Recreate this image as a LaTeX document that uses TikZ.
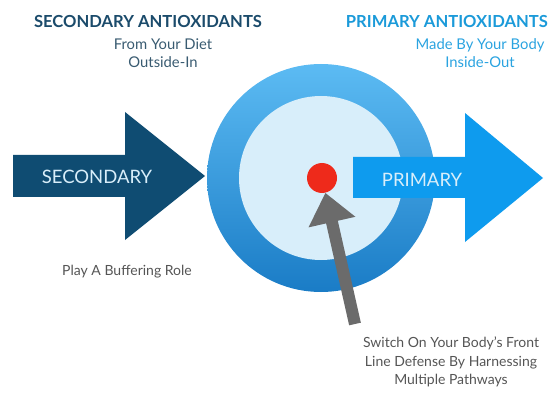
\documentclass[tikz,border=0pt]{standalone}
\usepackage{fontspec}
\setmainfont{Lato}
\usetikzlibrary{arrows.meta}
\definecolor{navy}{HTML}{0F4C72}
\definecolor{navytxt}{HTML}{1B4B6B}
\definecolor{ringtop}{HTML}{5CBBF3}
\definecolor{ringbot}{HTML}{1A7CC6}
\definecolor{innerc}{HTML}{D8EEFA}
\definecolor{primc}{HTML}{0E9BEE}
\definecolor{primtxt}{HTML}{1B9AD9}
\definecolor{subtxt}{HTML}{2AA3E0}
\definecolor{graytxt}{HTML}{555555}
\definecolor{grayarr}{HTML}{6B6B6B}
\definecolor{dotred}{HTML}{EE2A1B}
\tikzset{
  title/.style={font=\bfseries\fontsize{16.6}{19}\selectfont, inner sep=0pt},
  sub/.style={font=\fontsize{14.8}{18}\selectfont, align=center, inner sep=0pt},
  body/.style={font=\fontsize{14}{18.5}\selectfont, text=graytxt, align=center, inner sep=0pt},
  arrtxt/.style={font=\fontsize{18.5}{20}\selectfont, inner sep=0pt}
}
\begin{document}
\begin{tikzpicture}[x=1pt,y=-1pt]
\useasboundingbox (0,0) rectangle (560,393);
% target circles
\shade[top color=ringtop, bottom color=ringbot] (321,178) circle (114);
\fill[innerc] (321,178) circle (82);
% secondary arrow
\fill[navy] (13,155) -- (125,155) -- (125,112) -- (205,176) -- (125,240) -- (125,197) -- (13,197) -- cycle;
\node[arrtxt, text=innerc] (sec) at (97,177) {SECONDARY};
% primary arrow
\fill[primc] (353,157) -- (465,157) -- (465,113) -- (543,178) -- (465,242) -- (465,198) -- (353,198) -- cycle;
\node[arrtxt, text=innerc] (prim) at (422,180) {PRIMARY};
% red dot
\node[circle, fill=dotred, minimum size=30pt, inner sep=0pt] (dot) at (322,178) {};
% gray arrow
\coordinate (tail) at (355,324);
\draw[grayarr, line width=12pt, -{Triangle[width=46pt,length=30pt]}] (tail) -- (dot);
% texts
\node[title, text=navytxt] (t1) at (148,22) {SECONDARY ANTIOXIDANTS};
\node[sub, text=navytxt!70!gray] (s1) at (163,53) {From Your Diet\\Outside-In};
\node[title, text=primtxt, anchor=east] (t2) at (548,22) {PRIMARY ANTIOXIDANTS};
\node[sub, text=subtxt] (s2) at (480,53) {Made By Your Body\\Inside-Out};
\node[body] (b1) at (127,272) {Play A Buffering Role};
\node[body] (b2) at (451,362) {Switch On Your Body’s Front\\Line Defense By Harnessing\\Multiple Pathways};
\end{tikzpicture}
\end{document}
